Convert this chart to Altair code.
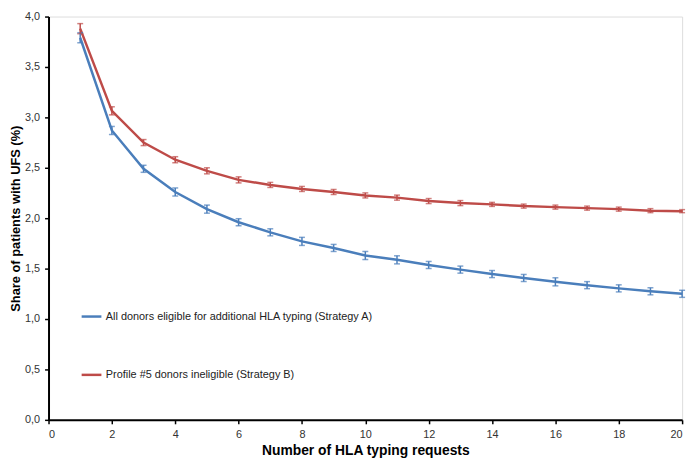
import altair as alt
import pandas as pd

requests = list(range(1, 21))
strategy_a = [3.79, 2.87, 2.49, 2.26, 2.09, 1.96, 1.86, 1.77, 1.705, 1.63, 1.587, 1.536, 1.49, 1.446, 1.407, 1.369, 1.336, 1.304, 1.275, 1.25]
err_a = [0.05, 0.04, 0.035, 0.04, 0.04, 0.035, 0.035, 0.04, 0.035, 0.04, 0.04, 0.035, 0.035, 0.035, 0.035, 0.04, 0.035, 0.035, 0.035, 0.035]
strategy_b = [3.88, 3.065, 2.75, 2.58, 2.47, 2.38, 2.33, 2.29, 2.26, 2.226, 2.204, 2.17, 2.15, 2.137, 2.12, 2.11, 2.10, 2.09, 2.075, 2.07]
err_b = [0.05, 0.04, 0.03, 0.03, 0.03, 0.03, 0.025, 0.025, 0.025, 0.025, 0.025, 0.025, 0.025, 0.02, 0.02, 0.02, 0.02, 0.02, 0.02, 0.015]

name_a = "All donors eligible for additional HLA typing (Strategy A)"
name_b = "Profile #5 donors ineligible (Strategy B)"
colors = ["#4A7EBB", "#BE4B48"]
y_title = "Share of patients with UFS (%)"
x_title = "Number of HLA typing requests"

rows = []
for x, v, e in zip(requests, strategy_a, err_a):
    rows.append({"x": x, "y": v, "lo": v - e, "hi": v + e, "s": name_a})
for x, v, e in zip(requests, strategy_b, err_b):
    rows.append({"x": x, "y": v, "lo": v - e, "hi": v + e, "s": name_b})
df = pd.DataFrame(rows)

font = "Liberation Sans"
color_scale = alt.Scale(domain=[name_a, name_b], range=colors)

xaxis = alt.Axis(values=list(range(0, 21, 2)), title=x_title,
                 grid=False, domainColor="black", domainWidth=2, tickColor="black",
                 tickWidth=1.5, tickSize=4, labelFont=font, labelFontSize=11,
                 labelColor="#333333", titleFont=font, titleFontSize=14,
                 titleFontWeight="bold", titleColor="black", labelPadding=5,
                 titleY=35, titleBaseline="alphabetic")
yaxis = alt.Axis(values=[0, 0.5, 1, 1.5, 2, 2.5, 3, 3.5, 4],
                 labelExpr="replace(format(datum.value, '.1f'), '.', ',')",
                 title=y_title, grid=False,
                 domainColor="black", domainWidth=2, tickColor="black",
                 tickWidth=1.5, tickSize=4, labelFont=font, labelFontSize=11,
                 labelColor="#333333", titleFont=font, titleFontSize=13,
                 titleFontWeight="bold", titleColor="black", labelPadding=5,
                 titleX=-26)
xscale = alt.Scale(domain=[0, 20], nice=False)
yscale = alt.Scale(domain=[0, 4], nice=False)

lines = alt.Chart(df).mark_line(strokeWidth=2.5).encode(
    x=alt.X("x:Q", scale=xscale, axis=xaxis, title=x_title),
    y=alt.Y("y:Q", scale=yscale, axis=yaxis, title=y_title),
    color=alt.Color("s:N", scale=color_scale,
                    legend=alt.Legend(title=None, orient="none", legendX=32, legendY=292,
                                      symbolType="stroke", symbolSize=400,
                                      symbolStrokeWidth=2.5, labelFont=font,
                                      labelFontSize=11, labelColor="#222222",
                                      labelOffset=3, rowPadding=42, labelLimit=500)),
)

bars = alt.Chart(df).mark_errorbar(ticks=alt.TickConfig(size=6, thickness=1.5), thickness=1.5).encode(
    x=alt.X("x:Q", title=x_title),
    y=alt.Y("lo:Q", title=y_title),
    y2="hi:Q",
    color=alt.Color("s:N", scale=color_scale, legend=None),
)

chart = alt.layer(lines, bars).properties(
    width=641, height=408,
    autosize=alt.AutoSizeParams(type="none"),
    padding={"left": 41, "top": 6, "right": 10, "bottom": 41},
).configure_view(stroke=None).configure(background="white")

chart.save("out.html", embed_options={"renderer": "svg", "actions": False})
